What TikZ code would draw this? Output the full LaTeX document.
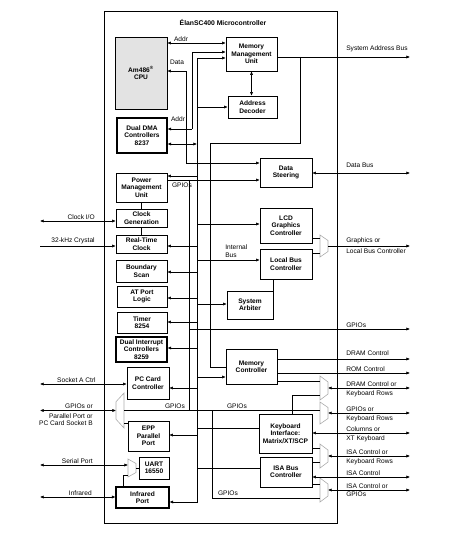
\documentclass[tikz,border=0pt]{standalone}
\usepackage{fontspec}
\setmainfont{Liberation Sans}
\usetikzlibrary{arrows.meta}
\tikzset{
  wire/.style={line width=0.6pt},
  blk/.style={draw,align=center,inner sep=0pt,
    font=\fontsize{6.6}{7.4}\selectfont\bfseries},
  thk/.style={line width=1.1pt},
  tip/.style={-{Latex[length=3.6pt,width=3.2pt]}},
  tips/.style={{Latex[length=3.6pt,width=3.2pt]}-{Latex[length=3.6pt,width=3.2pt]}},
  sig/.style={inner sep=0pt,font=\fontsize{6.6}{7.4}\selectfont},
  muxs/.style={draw=gray!65,line width=0.6pt}}
% block from its corners: name, x1, y1, x2, y2, text
\newcommand{\blk}[7][]{%
  \node[blk,#1,minimum width={(#5-#3)*1pt},minimum height={(#6-#4)*1pt}]
    (#2) at ({(#3+#5)/2},{(#4+#6)/2}) {#7};}
% mux, narrow side to the right: name, x, y1, y2
\newcommand{\muxr}[4]{%
  \draw[muxs] (#2,#3) -- ({#2+8},{#3+(#4-#3)/4}) -- ({#2+8},{#4-(#4-#3)/4})
    -- (#2,#4) -- cycle;
  \coordinate (#1) at ({#2+8},{(#3+#4)/2});
  \coordinate (#1-in) at (#2,{(#3+#4)/2});}
% mux, narrow side to the left: name, x, y1, y2
\newcommand{\muxl}[4]{%
  \draw[muxs] (#2,#3) -- ({#2-8},{#3+(#4-#3)/4}) -- ({#2-8},{#4-(#4-#3)/4})
    -- (#2,#4) -- cycle;
  \coordinate (#1) at ({#2-8},{(#3+#4)/2});
  \coordinate (#1-in) at (#2,{(#3+#4)/2});}
\newcommand{\outlbl}[3]{%
  \node[sig,anchor=south west] at (346,{#1-1.5}) {#2};
  \node[sig,anchor=north west] at (346,{#1+2}) {#3};}

\begin{document}
\begin{tikzpicture}[x=1pt,y=-1pt,wire]
  \useasboundingbox (0,0) rectangle (455,545);
  \draw (104,11) rectangle (337,523);
  \node[font=\fontsize{6.8}{8}\selectfont\bfseries] (title) at (223,23)
    {ÉlanSC400 Microcontroller};
  \coordinate (pinL) at (40,0);
  \coordinate (pinR) at (410,0);

  % blocks, left column
  \blk[fill=gray!22]{cpu}{115}{37}{167}{109}{Am486\textsuperscript{\textregistered}\\CPU}
  \blk[thk]{dma}{117}{118}{167}{153}{Dual DMA\\Controllers\\8237}
  \blk{pmu}{116}{173}{167}{202}{Power\\Management\\Unit}
  \blk{clkgen}{116}{209}{167}{227}{Clock\\Generation}
  \blk{rtc}{116}{235}{167}{253}{Real-Time\\Clock}
  \blk{bscan}{116}{260}{167}{282}{Boundary\\Scan}
  \blk{atport}{117}{286}{167}{307}{AT Port\\Logic}
  \blk{timer}{117}{312}{167}{333}{Timer\\8254}
  \blk[thk]{pic}{116}{337}{167}{362}{Dual Interrupt\\Controllers\\8259}
  \blk{pccard}{127}{367}{169}{399}{PC Card\\Controller}
  \blk{epp}{128}{421}{169}{451}{EPP\\Parallel\\Port}
  \blk{uart}{139}{457}{169}{479}{UART\\16550}
  \blk[thk]{irda}{116}{487}{169}{508}{Infrared\\Port}
  % blocks, right column
  \blk{mmu}{226}{37}{277}{71}{Memory\\Management\\Unit}
  \blk{adec}{228}{96}{277}{118}{Address\\Decoder}
  \blk{dsteer}{260}{158}{312}{187}{Data\\Steering}
  \blk{lcd}{260}{208}{312}{243}{LCD\\Graphics\\Controller}
  \blk{lbus}{260}{249}{312}{279}{Local Bus\\Controller}
  \blk{arb}{227}{291}{273}{319}{System\\Arbiter}
  \blk{memc}{226}{349}{277}{384}{Memory\\Controller}
  \blk{kbd}{259}{414}{312}{453}{Keyboard\\Interface:\\Matrix/XT/SCP}
  \blk{isa}{260}{457}{312}{487}{ISA Bus\\Controller}

  % muxes
  \muxr{mG}{320}{235}{257}
  \muxr{m1}{320}{376}{400}
  \muxr{m2}{320}{402}{424}
  \muxr{m3}{320}{444}{468}
  \muxr{m4}{320}{478}{502}
  \muxl{mL}{124}{393}{428}
  \muxr{mS}{128}{459}{477}

  % cpu, dma and mmu
  \draw[tips] (cpu.east |- 0,43) -- (mmu.west |- 0,43);
  \node[sig] at (181,39) {Addr};
  \coordinate (addrB) at (192,129);
  \draw[tip] (addrB) |- (mmu.west |- 0,52);
  \draw[tip] (addrB) -- (dma.east |- addrB);
  \node[sig] at (178,119) {Addr};
  \coordinate (dataB) at (186,163);
  \draw[tip] (dataB) |- (cpu.east |- 0,71);
  \draw[tip] (dataB) -- (dsteer.west |- dataB);
  \node[sig] at (177,62) {Data};
  \draw[tips] (mmu.south) -- (mmu.south |- adec.north);
  \draw (pmu) -- (clkgen) -- (rtc);
  \draw (arb.north east) -- (arb.north east |- lbus.south);

  % internal bus
  \coordinate (busT) at (197,58);
  \coordinate (busB) at (197,503);
  \draw[tip] (busB) |- (mmu.west |- busT);
  \draw[tips] (dma.east |- 0,144) -- (busT |- 0,144);
  \foreach \bx/\yy in {pmu/176,rtc/246,bscan/272,atport/298,timer/322,
      pic/348,pccard/388,epp/435,irda/502}
    \draw[tip] (busT |- 0,\yy) -- (\bx.east |- 0,\yy);
  \foreach \bx/\yy in {adec/107,lcd/224,lbus/260,arb/304,memc/377}
    \draw[tip] (busT |- 0,\yy) -- (\bx.west |- 0,\yy);
  \foreach \bx/\yy in {kbd/428,isa/468}
    \draw (busT |- 0,\yy) -- (\bx.west |- 0,\yy);
  \node[sig,anchor=west,align=left] at (225,251) {Internal\\Bus};

  % system address bus to memory controller
  \coordinate (sabJ) at (300,57);
  \coordinate (memA) at (210,143);
  \draw[tip] (mmu.east |- sabJ) -- (pinR |- sabJ);
  \draw (sabJ) |- (memA) |- (memc.west |- 0,367);
  \node[sig,anchor=south west] at (346,52) {System Address Bus};

  % gpios
  \coordinate (gpioT) at (189,180);
  \coordinate (gpioB) at (189,410);
  \coordinate (gpioC) at (212,410);
  \draw[tip] (pmu.east |- gpioT) -- (dsteer.west |- gpioT);
  \node[sig] at (182,185) {GPIOs};
  \draw (gpioT) -- (gpioB);
  \draw (mL-in |- gpioB) -- (m2-in |- gpioB);
  \draw (gpioC) |- (m4-in |- 0,498);
  \node[sig] at (175,406) {GPIOs};
  \node[sig] at (237,406) {GPIOs};
  \node[sig] at (228,493) {GPIOs};

  % right side pins
  \draw[tips] (dsteer.east |- 0,173) -- (pinR |- 0,173);
  \node[sig,anchor=south west] at (346,168) {Data Bus};
  \draw (lcd.east |- 0,238) -- (mG-in |- 0,238);
  \draw (lbus.east |- 0,253) -- (mG-in |- 0,253);
  \draw[tip] (mG) -- (pinR |- mG);
  \outlbl{246}{Graphics or}{Local Bus Controller}
  \draw[tip] (gpioT |- 0,329) -- (pinR |- 0,329);
  \node[sig,anchor=south west] at (346,327.5) {GPIOs};
  \draw[tip] (memc.east |- 0,359) -- (pinR |- 0,359);
  \node[sig,anchor=south west] at (346,356) {DRAM Control};
  \draw[tip] (memc.east |- 0,373) -- (pinR |- 0,373);
  \node[sig,anchor=south west] at (346,371.5) {ROM Control};
  \draw (memc.east |- 0,381) -- (m1-in |- 0,381);
  \draw (kbd.north -| 292,0) |- (m1-in |- 0,395);
  \draw[tips] (m1) -- (pinR |- m1);
  \outlbl{388}{DRAM Control or}{Keyboard Rows}
  \draw[tips] (m2) -- (pinR |- m2);
  \outlbl{413}{GPIOs or}{Keyboard Rows}
  \draw[tips] (kbd.east |- 0,433) -- (pinR |- 0,433);
  \outlbl{433}{Columns or}{XT Keyboard}
  \draw (kbd.east |- 0,448) -- (m3-in |- 0,448);
  \draw (isa.east |- 0,462) -- (m3-in |- 0,462);
  \draw[tips] (m3) -- (pinR |- m3);
  \outlbl{456}{ISA Control or}{Keyboard Rows}
  \draw[tips] (isa.east |- 0,477) -- (pinR |- 0,477);
  \node[sig,anchor=south west] at (346,475.5) {ISA Control};
  \draw (isa.east |- 0,484) -- (m4-in |- 0,484);
  \draw[tips] (m4) -- (pinR |- m4);
  \outlbl{490}{ISA Control or}{GPIOs}

  % left side pins
  \draw[tips] (pinL |- 0,221) -- (clkgen.west |- 0,221);
  \node[sig,anchor=south east] at (95,219.5) {Clock I/O};
  \draw[tip] (pinL |- 0,246) -- (rtc.west |- 0,246);
  \node[sig,anchor=south east] at (95,244.5) {32-kHz Crystal};
  \draw[tips] (pinL |- 0,384) -- (pccard.west |- 0,384);
  \node[sig,anchor=south east] at (96,382.5) {Socket A Ctrl};
  \draw[tips] (pinL |- mL) -- (mL);
  \node[sig,anchor=south east] at (93,409) {GPIOs or};
  \node[sig,anchor=north east,align=right] at (93,413.5)
    {Parallel Port or\\PC Card Socket B};
  \draw (mL-in |- 0,423) -- (epp.west |- 0,423);
  \draw[tips] (pinL |- 0,465) -- (mS-in |- 0,465);
  \node[sig,anchor=south east] at (93,463.5) {Serial Port};
  \draw (mS) -- (uart.west |- mS);
  \draw (mS-in |- 0,475) -| (irda.north -| 123,0);
  \draw[tips] (pinL |- 0,497) -- (irda.west |- 0,497);
  \node[sig,anchor=south east] at (92,495.5) {Infrared};
\end{tikzpicture}
\end{document}
